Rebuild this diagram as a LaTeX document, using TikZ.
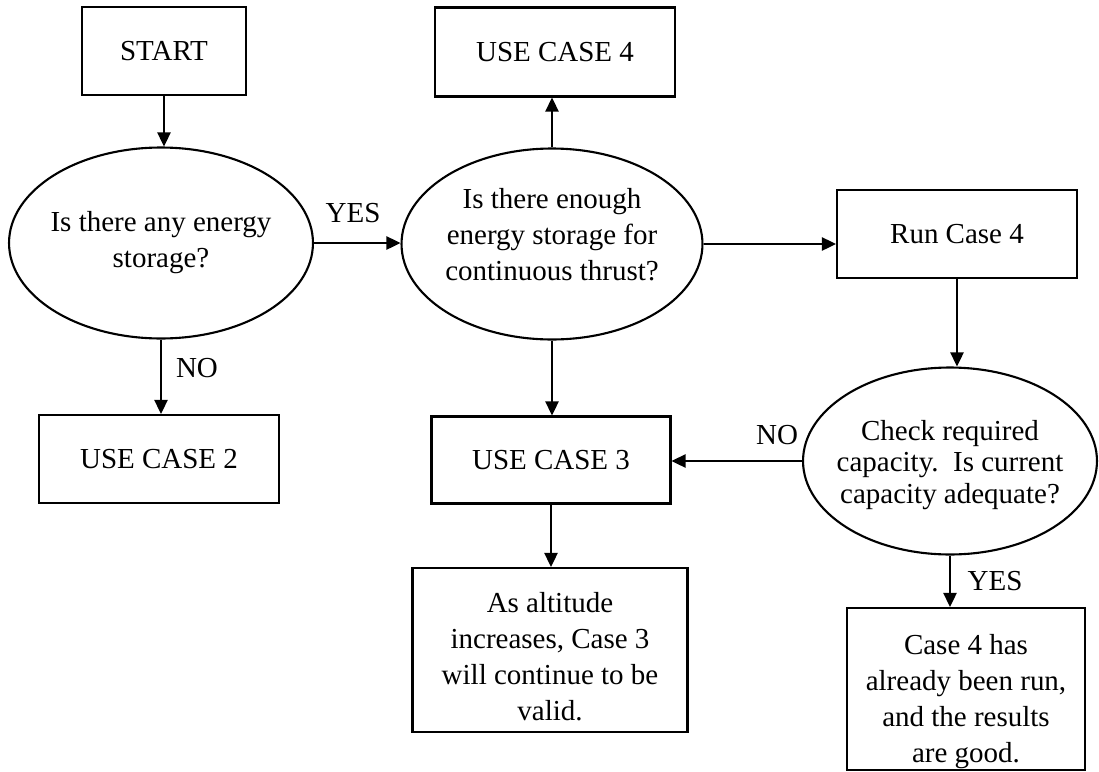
\documentclass[tikz,border=0pt]{standalone}
\usepackage{fontspec}
\setmainfont{Liberation Serif}
\usetikzlibrary{shapes.geometric,arrows.meta}

\begin{document}
\begin{tikzpicture}[
      x=0.02cm, y=-0.02cm,
      box/.style={draw, line width=1.2pt, align=center, inner sep=2pt,
                  font=\fontsize{16.5}{20.5}\selectfont},
      oval/.style={draw, ellipse, line width=1.2pt, align=center, inner sep=-0.3cm,
                   font=\fontsize{16.5}{20.5}\selectfont},
      lbl/.style={font=\fontsize{16.5}{20.5}\selectfont},
      flow/.style={line width=1.2pt, -{Triangle[length=8pt,width=7.5pt]}}
    ]
      \useasboundingbox (0,0) rectangle (1099,771);
      \node[box, minimum width=3.28cm, minimum height=1.76cm] (start) at (164,51) {START};
      \node[oval, minimum width=6.08cm, minimum height=3.82cm] (any) at (161,243)
        {Is there any energy\\storage?\rule[-0.15cm]{0pt}{0pt}};
      \node[box, minimum width=4.8cm, minimum height=1.78cm] (usefour) at (555,52) {USE CASE 4};
      \node[oval, minimum width=6.02cm, minimum height=3.82cm] (enough) at (552,244)
        {Is there enough\\energy storage for\\continuous thrust?\rule[-0.4cm]{0pt}{0pt}};
      \node[box, minimum width=4.8cm, minimum height=1.76cm] (runfour) at (957,234) {Run Case 4};
      \node[box, minimum width=4.8cm, minimum height=1.76cm] (usetwo) at (159,459) {USE CASE 2};
      \node[box, minimum width=4.78cm, minimum height=1.74cm] (usethree) at (551,460) {USE CASE 3};
      \node[oval, minimum width=5.88cm, minimum height=3.74cm,
            font=\fontsize{16.5}{18}\selectfont] (check) at (950,461)
        {\rule{0pt}{0.55cm}Check required\\capacity.\ \ Is current\\capacity adequate?};
      \node[box, minimum width=5.5cm, minimum height=3.28cm] (valid) at (550,650)
        {\rule{0pt}{0.65cm}As altitude\\increases, Case 3\\will continue to be\\valid.};
      \node[box, inner sep=0pt, minimum width=4.76cm, minimum height=3.24cm] (good) at (966,689)
        {\rule{0pt}{0.9cm}Case 4 has\\already been run,\\and the results\\are good.};
      \node[lbl] (yesone) at (353,213) {YES};
      \node[lbl] (noone) at (197,368) {NO};
      \node[lbl] (notwo) at (777,435) {NO};
      \node[lbl] (yestwo) at (995,581) {YES};
      \draw[flow] (start.south) -- (start.south |- any.north);
      \draw[flow] (any.east) -- (any.east -| enough.west);
      \draw[flow] (any.south) -- (any.south |- usetwo.north);
      \draw[flow] (enough.north) -- (enough.north |- usefour.south);
      \draw[flow] (enough.east) -- (enough.east -| runfour.west);
      \draw[flow] (enough.south) -- (enough.south |- usethree.north);
      \draw[flow] (runfour.south) -- (runfour.south |- check.north);
      \draw[flow] (check.west) -- (check.west -| usethree.east);
      \draw[flow] (usethree.south) -- (usethree.south |- valid.north);
      \draw[flow] (check.south) -- (check.south |- good.north);
    \end{tikzpicture}
\end{document}
